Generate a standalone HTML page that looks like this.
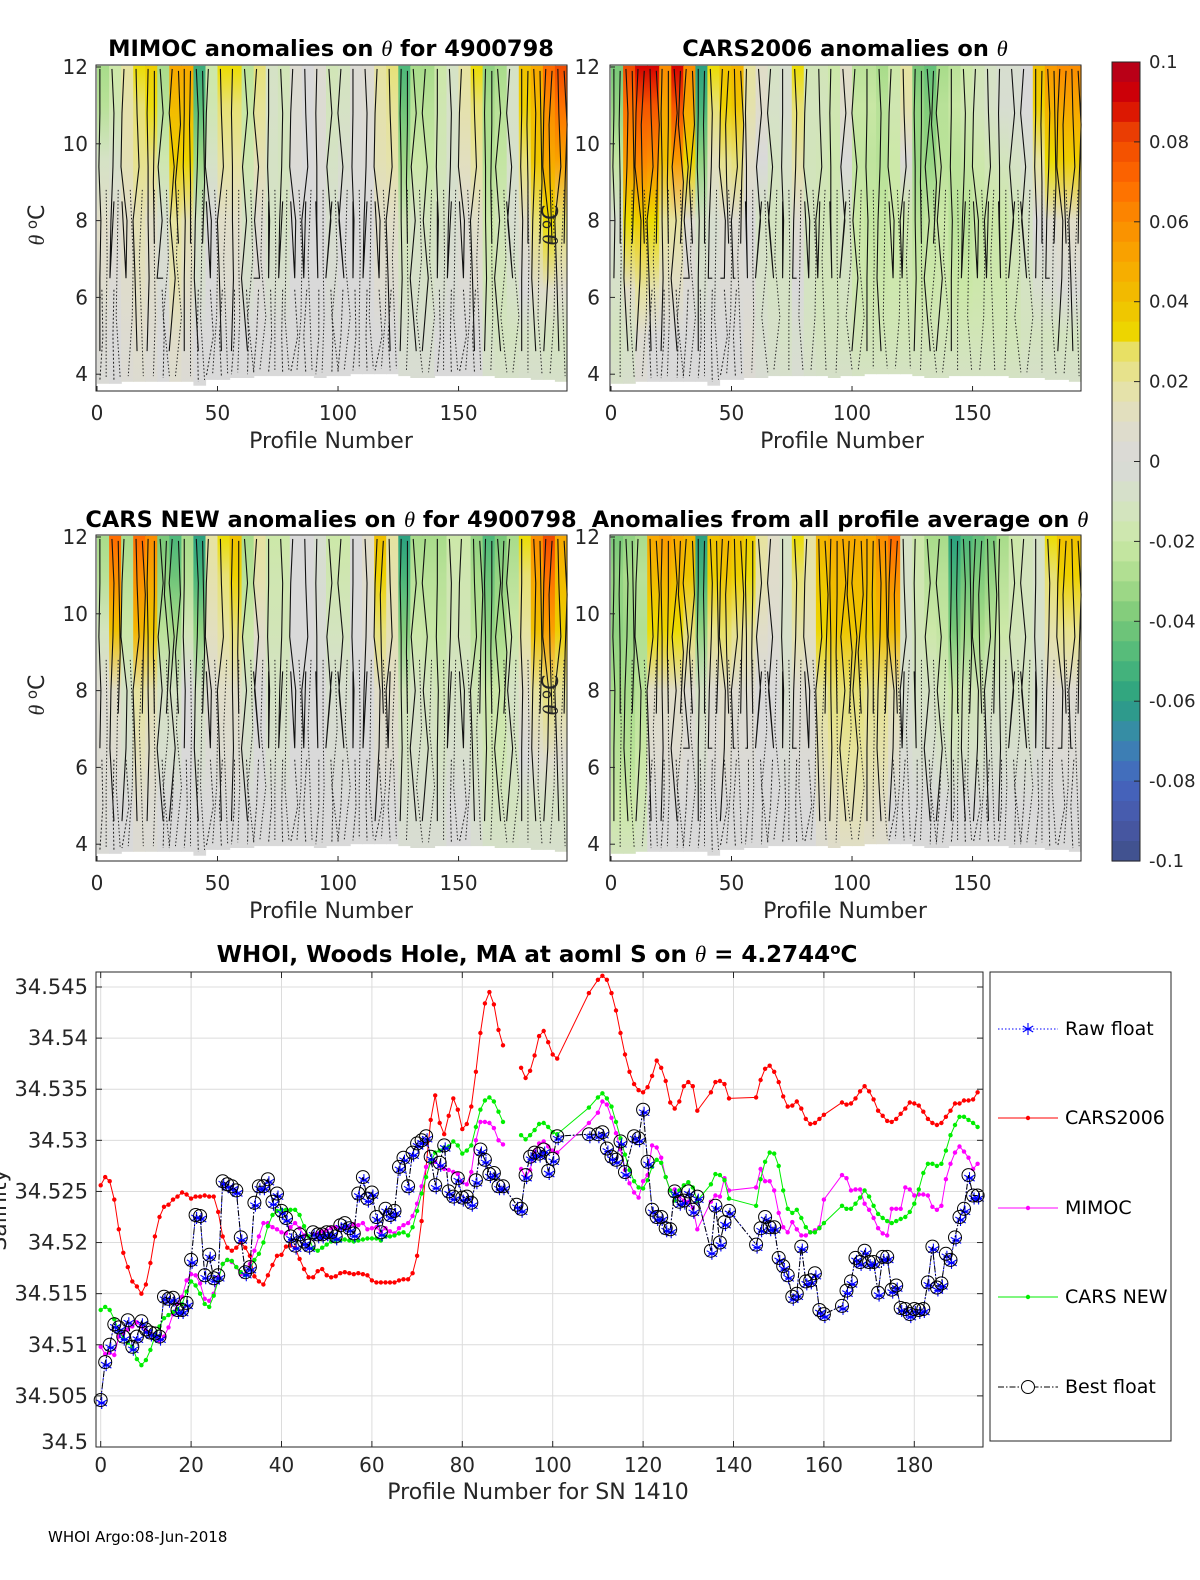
<!DOCTYPE html>
<html><head><meta charset="utf-8"><style>
html,body{margin:0;padding:0;background:#fff;}
svg text{font-family:"DejaVu Sans","Liberation Sans",sans-serif;}
</style></head><body>
<svg id="fig" xmlns="http://www.w3.org/2000/svg" width="1200" height="1575" viewBox="0 0 1200 1575">
<rect width="1200" height="1575" fill="#fff"/>
<defs id="defs"></defs>
<g id="heat"></g>
<g id="cbar"></g>
<g id="bottom"></g>
<text x="48" y="1542" font-size="15" fill="#000">WHOI Argo:08-Jun-2018</text>
</svg>
<script>
// ---------- heatmap data (39 bins of 5 profiles) ----------
const mimocTop=[-0.03,-0.02,0.02,0.03,0.035,-0.03,0.05,0.05,-0.055,-0.02,0.03,0.03,-0.025,0.025,-0.01,-0.015,0.005,0,0.005,-0.015,-0.012,0.003,0.005,0.02,0.025,-0.05,-0.03,-0.03,-0.02,-0.01,0.02,0.03,-0.035,-0.03,-0.01,0.04,0.05,0.07,0.08];
const mimocMid=[0.01,0.005,0.01,0.015,0.01,-0.005,0.02,0.015,-0.01,0,0.01,0.01,-0.01,0.005,-0.01,-0.01,0,0,0,-0.005,0,0,0,0.01,0.01,-0.015,-0.01,-0.012,-0.01,-0.005,0.005,0.01,-0.02,-0.015,-0.005,0.01,0.025,0.03,0.025];
const mimocLow=[0.003,0,0.005,0.008,0.005,0,0.01,0.005,0,0,0,0,0,0,0,0,0,0,0,0,0,0,0,0,0,-0.005,-0.005,-0.005,0,0,0,0,-0.01,-0.012,-0.012,-0.01,-0.01,-0.012,-0.012];
const cars06Top=[-0.04,0.08,0.09,0.09,0.06,0.09,0.06,-0.06,0.03,0.04,0.045,0.02,0.01,-0.01,-0.005,0.03,-0.015,-0.015,-0.02,0.01,-0.025,-0.025,-0.03,-0.02,0.02,-0.04,-0.045,-0.03,-0.025,-0.02,-0.015,-0.01,-0.005,-0.005,0,0.04,0.055,0.06,0.06];
const cars06Mid=[-0.005,0.03,0.035,0.03,0.02,0.02,0.005,-0.01,-0.005,0.005,0.005,0,-0.01,-0.012,-0.01,0.005,-0.012,-0.015,-0.015,-0.01,-0.02,-0.022,-0.022,-0.02,-0.018,-0.025,-0.022,-0.02,-0.025,-0.025,-0.022,-0.02,-0.02,-0.015,-0.01,0,0.005,0.01,0.01];
const cars06Low=[-0.012,-0.01,0.005,0,0,0,0,0,0,0,0,0.005,-0.005,-0.008,-0.01,-0.005,-0.01,-0.012,-0.012,-0.012,-0.015,-0.015,-0.015,-0.015,-0.015,-0.015,-0.015,-0.015,-0.015,-0.015,-0.015,-0.015,-0.015,-0.015,-0.012,-0.012,-0.012,-0.012,-0.012];
const carsNewTop=[-0.03,0.07,-0.03,0.07,0.06,-0.04,-0.05,-0.03,-0.06,0.02,0.03,0.04,-0.03,0.02,-0.02,-0.02,0,0,-0.005,-0.02,-0.02,0,0.01,0.04,0.02,-0.06,-0.03,-0.03,-0.03,-0.02,-0.02,-0.035,-0.05,-0.04,-0.03,0.03,0.06,0.08,0.05];
const carsNewMid=[0.005,0.01,-0.01,0.02,0.015,-0.01,-0.01,0,-0.01,0.005,0.01,0.01,-0.01,0,-0.01,-0.01,0,0,0,-0.005,-0.005,0,0,0.01,0.01,-0.015,-0.01,-0.012,-0.015,-0.01,-0.01,-0.015,-0.02,-0.02,-0.01,0.01,0.02,0.025,0.02];
const carsNewLow=[0.003,0,0,0.006,0.004,0,0,0,0,0,0,0,0,0,0,0,0,0,0,0,0,0,0,0,0,-0.005,-0.005,-0.005,-0.005,0,0,-0.005,-0.012,-0.012,-0.012,-0.01,-0.01,-0.01,-0.01];
const avgTop=[-0.04,-0.035,-0.03,0.05,0.055,0.05,0.045,-0.06,0.04,0.045,0.04,0.035,0.02,0.01,-0.01,0.03,0.02,0.045,0.05,0.05,0.05,0.05,0.06,0.07,-0.01,-0.02,-0.03,-0.03,-0.06,-0.05,-0.045,-0.04,-0.03,-0.02,-0.015,-0.01,0.03,0.04,0.04];
const avgMid=[-0.03,-0.03,-0.025,0.01,0.01,0.01,0.005,-0.01,0.005,0.01,0.005,0.005,0,0,-0.005,0.005,0.005,0.02,0.025,0.025,0.025,0.022,0.022,0.015,-0.005,-0.01,-0.01,-0.015,-0.02,-0.015,-0.015,-0.01,-0.01,-0.01,-0.01,-0.005,0.005,0.005,0.005];
const avgLow=[-0.02,-0.02,-0.015,0,0,0,0,0,0,0,0,0,0,0,0,0,0,0.008,0.012,0.015,0.015,0.012,0.01,0,0,0,0,0,0,0,0,0,0,0,0,0,0,0,0];
const bottomTheta=[3.75,3.75,3.8,3.8,3.8,3.8,3.8,3.8,3.7,3.85,3.85,3.9,3.9,3.95,3.95,3.95,3.95,3.95,3.9,3.95,3.95,4.0,4.0,4.0,4.0,3.95,3.9,3.9,3.95,3.95,3.95,3.95,3.95,3.9,3.9,3.9,3.85,3.85,3.8];
const cbarTicks=[0.1,0.08,0.06,0.04,0.02,0,-0.02,-0.04,-0.06,-0.08,-0.1];

// ---------- salinity chart data ----------
function seq(a,b){const r=[];for(let i=a;i<=b;i++)r.push(i);return r;}
const lineProfiles=[].concat(seq(0,89),[90],seq(93,101),[108],seq(110,132),seq(135,139),seq(145,160),seq(164,194));
const cars2006=[34.5256,34.5264,34.526,34.5242,34.5213,34.519,34.5176,34.5162,34.5157,34.515,34.5159,34.518,34.5206,34.5225,34.5235,34.5237,34.5242,34.5245,34.5249,34.5247,34.5243,34.5245,34.5245,34.5246,34.5245,34.5245,34.523,34.5206,34.5195,34.5192,34.5195,34.52,34.5195,34.5187,34.5167,34.5162,34.5159,34.5168,34.5178,34.5187,34.5188,34.5196,34.5197,34.5195,34.5184,34.5174,34.5166,34.5166,34.5172,34.5174,34.5168,34.5166,34.5167,34.517,34.5171,34.517,34.5169,34.517,34.5169,34.5168,34.5163,34.5161,34.5161,34.5161,34.5161,34.5161,34.5163,34.5164,34.5164,34.517,34.5187,34.5221,34.5274,34.532,34.5344,34.5317,34.5306,34.5324,34.5341,34.533,34.5311,34.5316,34.5333,34.5367,34.5405,34.5434,34.5445,34.5433,34.5408,34.5393,
null,
34.5371,34.5361,34.5368,34.5383,34.5402,34.5407,34.5396,34.5384,34.538,
34.5444,
34.5457,34.5461,34.5457,34.5444,34.5427,34.5405,34.5384,34.5367,34.5355,34.5349,34.5347,34.5352,34.5363,34.5378,34.5371,34.5358,34.5337,34.5331,34.5338,34.5353,34.5357,34.5353,34.5329,
34.5347,34.5357,34.5358,34.5355,34.5341,
34.5342,34.5359,34.537,34.5373,34.5367,34.5357,34.5343,34.5333,34.5334,34.5338,34.5331,34.5321,34.5316,34.5317,34.5321,34.5325,
34.5337,34.5335,34.5336,34.5341,34.5348,34.5353,34.5348,34.534,34.5329,34.5324,34.5319,34.5318,34.5321,34.5326,34.5331,34.5337,34.5336,34.5334,34.5328,34.5321,34.5317,34.5315,34.5317,34.5323,34.5329,34.5336,34.5336,34.5339,34.5339,34.534,34.5347];
const mimoc=[34.5098,34.5091,34.5092,34.509,34.5108,34.5111,34.5115,34.5118,34.5122,34.5118,34.5114,34.5111,34.5108,34.5104,34.5108,34.5117,34.513,34.514,34.5147,34.5163,34.5169,34.5168,34.516,34.5145,34.5143,34.515,34.5166,34.5179,34.5183,34.5181,34.5176,34.5169,34.5169,34.5179,34.5192,34.5206,34.5219,34.5219,34.5215,34.5213,34.521,34.5209,34.5215,34.5219,34.5214,34.5207,34.5206,34.5208,34.5209,34.5211,34.5212,34.5214,34.5215,34.5214,34.5214,34.5215,34.5218,34.5217,34.5219,34.5213,34.5214,34.5215,34.521,34.5214,34.5211,34.5209,34.5214,34.5217,34.5219,34.5226,34.5238,34.5255,34.5274,34.5278,34.5279,34.5275,34.5272,34.5271,34.5269,34.5267,34.5259,34.5257,34.5269,34.53,34.5318,34.5318,34.5317,34.5312,34.53,34.5296,
null,
34.5272,34.5264,34.5271,34.5289,34.5297,34.5299,34.5294,34.529,34.5288,
34.5317,
34.5327,34.5338,34.5335,34.5322,34.5307,34.5291,34.5271,34.5258,34.5249,34.5244,34.526,34.5266,34.5295,34.5293,34.5283,34.5264,34.5251,34.5252,34.5245,34.5241,34.524,34.5234,34.5213,
34.524,34.5246,34.5245,34.5263,34.5251,
34.5254,34.5272,34.526,34.526,34.5251,34.5229,34.5215,34.521,34.522,34.5213,34.5207,34.5207,34.521,34.5212,34.5215,34.5242,
34.5266,34.5263,34.5251,34.5252,34.5252,34.5238,34.5232,34.5224,34.5214,34.5209,34.5207,34.5233,34.5233,34.5233,34.5254,34.5252,34.5246,34.5247,34.5247,34.5246,34.5235,34.5232,34.5236,34.5262,34.5277,34.5288,34.5294,34.5289,34.5283,34.5272,34.5277];
const carsNew=[34.5134,34.5137,34.5134,34.5125,34.5114,34.5106,34.5102,34.5098,34.5086,34.508,34.5085,34.5095,34.5108,34.5118,34.5126,34.5129,34.5132,34.5135,34.514,34.5152,34.5162,34.5158,34.515,34.514,34.5137,34.5148,34.5163,34.5179,34.5183,34.5182,34.5176,34.5171,34.5168,34.5174,34.5183,34.5189,34.52,34.5216,34.5227,34.5231,34.5232,34.5232,34.5232,34.5232,34.5227,34.5216,34.5206,34.5194,34.5192,34.5195,34.5198,34.5201,34.5202,34.5202,34.5203,34.5202,34.5201,34.5202,34.5203,34.5204,34.5204,34.5204,34.5202,34.5206,34.5206,34.5207,34.5209,34.521,34.5207,34.5215,34.5231,34.5248,34.5264,34.5279,34.5288,34.529,34.5293,34.5294,34.5299,34.5295,34.5287,34.529,34.5295,34.5313,34.533,34.5339,34.5342,34.5338,34.5328,34.5318,
null,
34.5305,34.5301,34.5305,34.531,34.5316,34.5317,34.5313,34.5308,34.5306,
34.5332,
34.5342,34.5346,34.5341,34.5333,34.5318,34.5302,34.5286,34.5271,34.526,34.5254,34.5253,34.5261,34.5274,34.5281,34.5278,34.5264,34.5251,34.5241,34.5251,34.5256,34.5259,34.5254,34.5241,
34.5257,34.5267,34.5266,34.5261,34.5243,
34.5236,34.5262,34.5279,34.5288,34.5287,34.5275,34.5251,34.5233,34.5229,34.5232,34.5224,34.5215,34.521,34.521,34.5214,34.5219,
34.5236,34.5233,34.5233,34.5238,34.5244,34.5251,34.5245,34.5236,34.5228,34.5224,34.5221,34.5219,34.5221,34.5223,34.5225,34.523,34.5238,34.5252,34.5268,34.5277,34.5277,34.5275,34.5277,34.529,34.5305,34.5315,34.5323,34.5323,34.532,34.5317,34.5313];
const floatProfiles=[].concat(seq(0,89),seq(92,101),[108],seq(110,116),seq(118,132),seq(135,139),seq(145,160),seq(164,194));
const bestFloat=[34.5046,34.5083,34.51,34.512,34.5117,34.5108,34.5124,34.5098,34.5108,34.5123,34.5115,34.5112,34.5111,34.5108,34.5147,34.5145,34.5146,34.5134,34.5134,34.5141,34.5183,34.5227,34.5226,34.5168,34.5188,34.5165,34.5168,34.526,34.5257,34.5255,34.5251,34.5205,34.5171,34.5176,34.5239,34.5255,34.5255,34.5262,34.524,34.5248,34.5231,34.5224,
34.5206,34.5197,34.5208,34.5201,34.5197,34.521,34.5208,34.5208,34.521,34.521,34.5206,34.5217,34.5219,34.5214,34.5209,34.5248,34.5264,34.5243,34.5249,34.5225,34.521,34.5233,34.5227,34.5231,34.5274,34.5283,34.5255,34.5288,34.5297,34.53,34.5304,34.5284,34.5256,34.5278,34.5295,34.525,34.5245,34.5263,34.5244,34.5245,34.5239,34.5261,34.5291,34.5281,34.5267,34.5268,34.5255,34.5255,
34.5237,34.5233,34.5266,34.5284,34.5288,34.5287,34.5291,34.527,34.5282,34.5304,
34.5306,
34.5306,34.5308,34.5292,34.5284,34.5281,34.5299,34.5269,
34.5304,34.5302,34.533,34.5279,34.5232,34.5225,34.5225,34.5214,34.5213,34.525,34.524,34.5241,34.525,34.5232,34.5245,
34.5192,34.5236,34.52,34.522,34.5231,
34.5198,34.5214,34.5225,34.5215,34.5215,34.5185,34.5177,34.5168,34.5147,34.515,34.5196,34.5162,34.5163,34.517,34.5134,34.513,
34.5138,34.5153,34.5162,34.5185,34.5181,34.5192,34.5181,34.5181,34.5151,34.5186,34.5186,34.5154,34.5158,34.5136,34.5135,34.513,34.5135,34.5134,34.5135,34.5161,34.5196,34.5156,34.516,34.5189,34.5183,34.5205,34.5225,34.5233,34.5266,34.5246,34.5246];
const rawFloat=bestFloat.slice();
const yTickVals=[34.5,34.505,34.51,34.515,34.52,34.525,34.53,34.535,34.54,34.545];
const yTickLabels=["34.5","34.505","34.51","34.515","34.52","34.525","34.53","34.535","34.54","34.545"];
const xTickVals=[0,20,40,60,80,100,120,140,160,180];

const NS="http://www.w3.org/2000/svg";
function mk(tag,attrs,parent){const e=document.createElementNS(NS,tag);for(const k in attrs)e.setAttribute(k,attrs[k]);if(parent)parent.appendChild(e);return e;}

const cstops=[[-0.1,[63,80,136]],[-0.09,[72,88,168]],[-0.08,[68,102,192]],[-0.07,[58,134,176]],[-0.06,[42,160,128]],[-0.05,[76,184,122]],[-0.04,[120,200,120]],[-0.03,[168,220,138]],[-0.02,[204,232,168]],[-0.01,[213,226,197]],[0,[217,217,217]],[0.01,[224,221,200]],[0.02,[230,227,160]],[0.028,[232,224,96]],[0.03,[236,220,0]],[0.04,[240,192,0]],[0.05,[248,168,0]],[0.06,[251,140,0]],[0.07,[255,106,0]],[0.08,[240,74,0]],[0.085,[227,48,5]],[0.09,[213,0,0]],[0.1,[176,0,31]]];
function cmap(v){v=Math.max(-0.1,Math.min(0.1,v));for(let i=0;i<cstops.length-1;i++){const a=cstops[i],b=cstops[i+1];if(v<=b[0]){const t=(v-a[0])/(b[0]-a[0]);const c=a[1].map((x,j)=>Math.round(x+(b[1][j]-x)*t));return `rgb(${c[0]},${c[1]},${c[2]})`;}}return 'rgb(176,0,31)';}

const defs=document.getElementById('defs');
const heat=document.getElementById('heat');
const panels=[
 {name:'mimoc',x0:96,y0:65,title:'MIMOC anomalies on ',tail:'  for 4900798',tx:331,ty:56,top:mimocTop,mid:mimocMid,low:mimocLow,tickX:88,xl:331},
 {name:'cars2006',x0:610,y0:65,title:'CARS2006 anomalies on ',tail:'',tx:845,ty:56,top:cars06Top,mid:cars06Mid,low:cars06Low,tickX:600,xl:842},
 {name:'cars-new',x0:96,y0:535,title:'CARS NEW anomalies on ',tail:' for 4900798',tx:331,ty:527,top:carsNewTop,mid:carsNewMid,low:carsNewLow,tickX:88,xl:331},
 {name:'all-profile-average',x0:610,y0:535,title:'Anomalies from all profile average on ',tail:'',tx:840,ty:527,top:avgTop,mid:avgMid,low:avgLow,tickX:600,xl:845}
];
const PW=471,PH=326;
const wig=[0,2,-2,1,-1,3,-3];
panels.forEach((p,pi)=>{
  const g=mk('g',{},heat);
  
  
  const xs=v=>p.x0+1+v*(PW-1)/195;
  const ys=t=>p.y0+2+(12-t)*38.4;
  const bw=xs(5)-xs(0);
  p.top.forEach((tv,i)=>{
    const id='gr'+pi+'_'+i;
    const lg=mk('linearGradient',{id:id,gradientUnits:'userSpaceOnUse',x1:0,x2:0,y1:ys(12.05),y2:ys(3.6)},defs);
    const th=[[12.05,tv],[11,tv*0.85],[9.6,(tv+p.mid[i])/2],[8,p.mid[i]],[6.2,(p.mid[i]+p.low[i])/2],[5,p.low[i]],[3.6,p.low[i]*0.6]];
    th.forEach(s=>mk('stop',{offset:((12.05-s[0])/8.45).toFixed(3),'stop-color':cmap(s[1])},lg));
    const r=mk('rect',{x:xs(i*5).toFixed(1),y:ys(12.03).toFixed(1),width:(bw+0.6).toFixed(1),height:(ys(bottomTheta[i])-ys(12.03)).toFixed(1),fill:`url(#${id})`},g);
    
    
  });
  // contour-like texture
  for(let i=0;i<p.mid.length;i++){
    const x1=xs(i*5+1.2), x2=xs(i*5+3.8);
    const w1=wig[i%7], w2=wig[(i+3)%7];
    const endA=Math.abs(p.top[i])>0.02?(Math.abs(p.mid[i])>0.008?4.6:6.5):8.5;
    const l=mk('polyline',{points:`${x1},${ys(11.95)} ${x1+w1},${ys(10.8)} ${x1-w2},${ys(9.4)} ${x1+w2},${ys(8)} ${x1-w1},${ys(6.5)} ${x1+w1},${ys(endA)}`,fill:'none',stroke:'#111','stroke-width':1.1},g);
    
    
    if(Math.abs(p.top[i])>0.03){
      const l2=mk('polyline',{points:`${x2},${ys(11.9)} ${x2-w2},${ys(10.5)} ${x2+w1},${ys(9)} ${x2},${ys(7.4)}`,fill:'none',stroke:'#111','stroke-width':1.1},g);
      
      
    }
    const d=mk('polyline',{points:`${x2},${ys(8.8)} ${x2+w2},${ys(7)} ${x2-w1},${ys(5.5)} ${x2+w1},${ys(bottomTheta[i]+0.15)}`,fill:'none',stroke:'#222','stroke-width':1,'stroke-dasharray':'1.5,2'},g);
    
    
    if(Math.abs(p.low[i])<0.004){
      const d2=mk('polyline',{points:`${x1+2},${ys(6.2)} ${x1+2+w2},${ys(5)} ${x1+w1},${ys(bottomTheta[i]+0.1)}`,fill:'none',stroke:'#222','stroke-width':1,'stroke-dasharray':'2,2'},g);
      
      
    }
  }
  const box=mk('rect',{x:p.x0,y:p.y0,width:PW,height:PH,fill:'none',stroke:'#262626','stroke-width':1},g);
  
  
  [0,50,100,150].forEach(v=>{
    mk('line',{x1:xs(v),x2:xs(v),y1:p.y0+PH,y2:p.y0+PH-5,stroke:'#262626'},g);
    const t=mk('text',{x:xs(v),y:p.y0+PH+29,'font-size':20,'text-anchor':'middle',fill:'#262626'},g);
    t.textContent=v;
    
    
  });
  [4,6,8,10,12].forEach(v=>{
    mk('line',{x1:p.x0,x2:p.x0+5,y1:ys(v),y2:ys(v),stroke:'#262626'},g);
    const t=mk('text',{x:p.tickX,y:ys(v)+7,'font-size':20,'text-anchor':'end',fill:'#262626'},g);
    t.textContent=v;
    
    
  });
  const xl=mk('text',{x:p.xl,y:p.y0+PH+57,'font-size':22,'text-anchor':'middle',fill:'#262626'},g);
  xl.textContent='Profile Number';
  
  
  const tt=mk('text',{x:p.tx,y:p.ty,'font-size':22.5,'font-weight':'bold','text-anchor':'middle',fill:'#000'},g);
  
  
  tt.appendChild(document.createTextNode(p.title));
  const th=mk('tspan',{'font-style':'italic','font-weight':'normal','font-family':'Liberation Serif, serif'},tt);th.textContent='θ';
  if(p.tail)tt.appendChild(document.createTextNode(p.tail));
  const ylx=(p.x0===96)?44:558;
  const yl=mk('text',{x:0,y:0,'font-size':22,'text-anchor':'middle',fill:'#262626',transform:`translate(${ylx},${p.y0+160}) rotate(-90)`},g);
  
  
  const t1=mk('tspan',{'font-style':'italic','font-family':'Liberation Serif, serif'},yl);t1.textContent='θ ';
  const t2=mk('tspan',{dy:-7,'font-size':15},yl);t2.textContent='o';
  const t3=mk('tspan',{dy:7},yl);t3.textContent='C';
});

// colorbar
const cb=document.getElementById('cbar');
const CB={x:1112,y:62,w:28,h:799};
for(let k=0;k<40;k++){
  const v=0.1-(k+0.5)*0.2/40;
  const r=mk('rect',{x:CB.x,y:(CB.y+k*CB.h/40).toFixed(2),width:CB.w,height:(CB.h/40+0.6).toFixed(2),fill:cmap(v)},cb);
  
  
}
mk('rect',{x:CB.x,y:CB.y,width:CB.w,height:CB.h,fill:'none',stroke:'#262626'},cb);
cbarTicks.forEach(v=>{
  const y=CB.y+(0.1-v)/0.2*CB.h;
  mk('line',{x1:CB.x+CB.w-6,x2:CB.x+CB.w,y1:y,y2:y,stroke:'#262626'},cb);
  const t=mk('text',{x:1149,y:y+6,'font-size':18,fill:'#262626'},cb);
  t.textContent=String(v);
  
  
});

// bottom chart
const B=document.getElementById('bottom');
const AX={l:96,r:983,t:972,b:1447};
const bx=v=>100.7+v*4.52;
const by=v=>987+(34.545-v)*10222;
mk('rect',{x:AX.l,y:AX.t,width:AX.r-AX.l,height:AX.b-AX.t,fill:'#fff'},B);
const grid=mk('g',{stroke:'#dcdcdc','stroke-width':1},B);


xTickVals.forEach(v=>mk('line',{x1:bx(v),x2:bx(v),y1:AX.t,y2:AX.b},grid));
yTickVals.forEach(v=>mk('line',{x1:AX.l,x2:AX.r,y1:by(v),y2:by(v)},grid));
function linePath(xsArr,vals){let d='';let pen=false;vals.forEach((v,i)=>{if(v===null){pen=false;return;}d+=(pen?'L':'M')+bx(xsArr[i]).toFixed(1)+','+by(v).toFixed(1);pen=true;});return d;}
function series(name,xsArr,vals,color){
  const g=mk('g',{},B);
  
  
  mk('path',{d:linePath(xsArr,vals),fill:'none',stroke:color,'stroke-width':1},g);
  vals.forEach((v,i)=>{if(v===null)return;
    const c=mk('circle',{cx:bx(xsArr[i]).toFixed(1),cy:by(v).toFixed(1),r:2.2,fill:color},g);
    
    
  });
}
series('cars2006',lineProfiles,cars2006,'#ff0000');
series('mimoc',lineProfiles,mimoc,'#ff00ff');
series('cars-new',lineProfiles,carsNew,'#00ee00');
const rg=mk('g',{},B);


mk('path',{d:linePath(floatProfiles,rawFloat),fill:'none',stroke:'#0000ff','stroke-width':1,'stroke-dasharray':'1.5,2'},rg);
function star(g,x,y,s,color){let d='';for(let a=0;a<3;a++){const an=Math.PI/2+a*Math.PI/3;d+=`M${(x-s*Math.cos(an)).toFixed(1)},${(y-s*Math.sin(an)).toFixed(1)}L${(x+s*Math.cos(an)).toFixed(1)},${(y+s*Math.sin(an)).toFixed(1)}`;}d+=`M${x-s*0.6},${y}L${x+s*0.6},${y}`;return mk('path',{d:d,stroke:color,'stroke-width':1.1,fill:'none'},g);}
rawFloat.forEach((v,i)=>{const s=star(rg,bx(floatProfiles[i])+1,by(v)+3,6,'#0000ff');
  
  });
const bg=mk('g',{},B);


mk('path',{d:linePath(floatProfiles,bestFloat),fill:'none',stroke:'#000','stroke-width':1,'stroke-dasharray':'6,2,1.5,2'},bg);
bestFloat.forEach((v,i)=>{const c=mk('circle',{cx:bx(floatProfiles[i]).toFixed(1),cy:by(v).toFixed(1),r:6.5,fill:'none',stroke:'#000','stroke-width':1},bg);
  
  });
mk('rect',{x:AX.l,y:AX.t,width:AX.r-AX.l,height:AX.b-AX.t,fill:'none',stroke:'#262626'},B);
xTickVals.forEach(v=>{
  mk('line',{x1:bx(v),x2:bx(v),y1:AX.b,y2:AX.b-6,stroke:'#262626'},B);
  mk('line',{x1:bx(v),x2:bx(v),y1:AX.t,y2:AX.t+6,stroke:'#262626'},B);
  const t=mk('text',{x:bx(v),y:AX.b+25,'font-size':20,'text-anchor':'middle',fill:'#262626'},B);
  t.textContent=v;
  
  
});
yTickVals.forEach((v,i)=>{
  mk('line',{x1:AX.l,x2:AX.l+6,y1:by(v),y2:by(v),stroke:'#262626'},B);
  mk('line',{x1:AX.r,x2:AX.r-6,y1:by(v),y2:by(v),stroke:'#262626'},B);
  const t=mk('text',{x:88,y:by(v)+(i===0?2:7),'font-size':21,'text-anchor':'end',fill:'#262626'},B);
  t.textContent=yTickLabels[i];
  
  
});
const xt=mk('text',{x:538,y:1499,'font-size':22,'text-anchor':'middle',fill:'#262626'},B);
xt.textContent='Profile Number for SN 1410';


const yt=mk('text',{x:0,y:0,'font-size':22,'text-anchor':'middle',fill:'#262626',transform:'translate(6,1210) rotate(-90)'},B);
yt.textContent='Salinity';


const bt=mk('text',{x:537,y:962,'font-size':23,'font-weight':'bold','text-anchor':'middle',fill:'#000'},B);


bt.appendChild(document.createTextNode('WHOI, Woods Hole, MA at aoml S on '));
const bth=mk('tspan',{'font-style':'italic','font-weight':'normal','font-family':'Liberation Serif, serif'},bt);bth.textContent='θ';
bt.appendChild(document.createTextNode(' = 4.2744'));
const bo=mk('tspan',{dy:-8,'font-size':15},bt);bo.textContent='o';
const bc=mk('tspan',{dy:8},bt);bc.textContent='C';
const L=mk('g',{},B);


mk('rect',{x:990,y:972,width:181,height:469,fill:'#fff',stroke:'#262626'},L);
const legItems=[['Raw float',1029],['CARS2006',1118],['MIMOC',1208],['CARS NEW',1297],['Best float',1387]];
legItems.forEach((it,k)=>{
  const y=it[1];
  const e=mk('g',{},L);
  
  
  if(k===0){mk('line',{x1:998,x2:1058,y1:y,y2:y,stroke:'#0000ff','stroke-dasharray':'1.5,2'},e);star(e,1028,y,6,'#0000ff');}
  else if(k===4){mk('line',{x1:998,x2:1058,y1:y,y2:y,stroke:'#000','stroke-dasharray':'6,2,1.5,2'},e);mk('circle',{cx:1028,cy:y,r:6.5,fill:'#fff',stroke:'#000'},e);}
  else{const c=['#ff0000','#ff00ff','#00ee00'][k-1];mk('line',{x1:998,x2:1058,y1:y,y2:y,stroke:c},e);mk('circle',{cx:1028,cy:y,r:2.2,fill:c},e);}
  const t=mk('text',{x:1065,y:y+6,'font-size':19,fill:'#000'},e);
  t.textContent=it[0];
});
</script>
</body></html>
